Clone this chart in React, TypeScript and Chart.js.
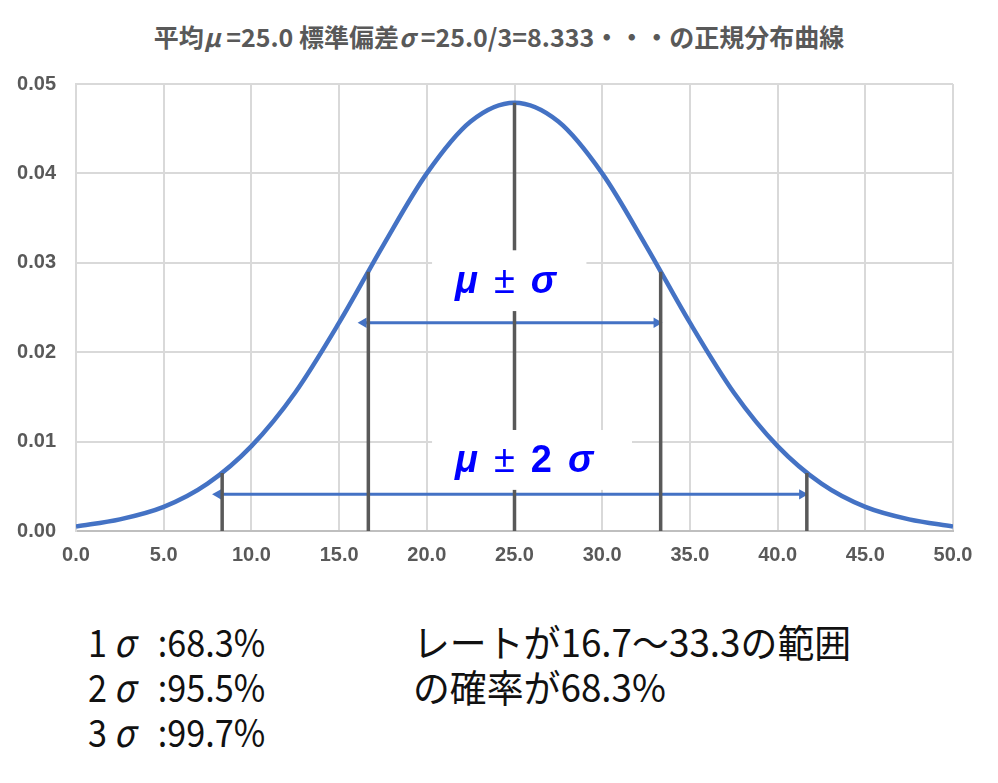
import React, { useEffect, useRef } from "react";
import { Chart, registerables } from "chart.js";

Chart.register(...registerables);

// x positions of the curve samples and the read-off density values
const curveX = [0, 2.5, 5, 7.5, 10, 12.5, 15, 17.5, 20, 22.5, 25, 27.5, 30, 32.5, 35, 37.5, 40, 42.5, 45, 47.5, 50];
const curveY = [
  0.0005, 0.0013, 0.0027, 0.0053, 0.0095, 0.0155, 0.0233, 0.0319, 0.04, 0.0458, 0.0479,
  0.0458, 0.04, 0.0319, 0.0233, 0.0155, 0.0095, 0.0053, 0.0027, 0.0013, 0.0005,
];

// μ-2σ, μ-σ, μ, μ+σ, μ+2σ and the curve height at each
const sigmaX = [8.333, 16.667, 25, 33.333, 41.667];
const sigmaY = [0.0065, 0.029, 0.0479, 0.029, 0.0065];

// double arrows: μ±σ and μ±2σ
const arrowFrom = [16.4, 8.1];
const arrowTo = [33.1, 41.4];
const arrowY = [0.0233, 0.0041];

const notesLeft = [
  ["1", ":68.3%"],
  ["2", ":95.5%"],
  ["3", ":99.7%"],
];
const notesRight = ["レートが16.7～33.3の範囲", "の確率が68.3%"];

const GRAY = "#595959";
const BLUE = "#4472C4";

// label boxes in data coords (left, right, top, bottom)
const labelBoxes = [
  { x0: 20.3, x1: 29.1, y0: 0.0314, y1: 0.0246, parts: ["μ", "±", "σ"] },
  { x0: 20.3, x1: 31.7, y0: 0.0113, y1: 0.0046, parts: ["μ", "±", "2", "σ"] },
];

const labelPlugin = {
  id: "sigmaLabels",
  afterDatasetsDraw(chart: any) {
    const { ctx, scales } = chart;
    const xs = scales.x;
    const ys = scales.y;
    ctx.save();
    labelBoxes.forEach((b) => {
      const l = xs.getPixelForValue(b.x0);
      const r = xs.getPixelForValue(b.x1);
      const t = ys.getPixelForValue(b.y0);
      const bt = ys.getPixelForValue(b.y1);
      ctx.fillStyle = "#ffffff";
      ctx.fillRect(l, t, r - l, bt - t);
      let x = l + 23;
      const y = (t + bt) / 2 + 2;
      ctx.fillStyle = "#0000FF";
      ctx.textBaseline = "middle";
      ctx.textAlign = "left";
      b.parts.forEach((p) => {
        if (p === "±") ctx.font = "38px 'Liberation Sans'";
        else if (p === "2") ctx.font = "bold 38px 'Liberation Sans'";
        else ctx.font = "italic bold 38px 'Liberation Sans'";
        ctx.fillText(p, x, y);
        x += ctx.measureText(p).width + 16;
      });
    });
    ctx.restore();
  },
};

const NormalChart: React.FC = () => {
  const canvasRef = useRef<HTMLCanvasElement>(null);

  useEffect(() => {
    let chart: Chart | null = null;
    const ctx = canvasRef.current?.getContext("2d");
    if (!ctx) return;

    const curve = curveX.map((x, i) => ({ x, y: curveY[i] }));
    const sigmaLines: { x: number; y: number | null }[] = [];
    sigmaX.forEach((x, i) => {
      sigmaLines.push({ x, y: 0 }, { x, y: sigmaY[i] }, { x, y: null });
    });
    const arrows = arrowFrom.map((x0, i) => ({
      type: "line" as const,
      data: [
        { x: x0, y: arrowY[i] },
        { x: arrowTo[i], y: arrowY[i] },
      ],
      borderColor: BLUE,
      backgroundColor: BLUE,
      borderWidth: 3,
      pointStyle: "triangle",
      pointRadius: 6,
      pointRotation: [-90, 90],
      pointBorderWidth: 0,
      tension: 0,
    }));

    chart = new Chart(ctx, {
      type: "scatter",
      data: {
        datasets: [
          {
            type: "line",
            data: sigmaLines,
            borderColor: GRAY,
            borderWidth: 3.5,
            pointRadius: 0,
            spanGaps: false,
            tension: 0,
          },
          {
            type: "line",
            data: curve,
            borderColor: BLUE,
            borderWidth: 4.5,
            pointRadius: 0,
            cubicInterpolationMode: "monotone",
          },
          ...arrows,
        ] as any,
      },
      options: {
        animation: false,
        responsive: true,
        maintainAspectRatio: false,
        layout: { padding: { left: 10, right: 45, top: 84, bottom: 9 } },
        plugins: {
          legend: { display: false },
          tooltip: { enabled: false },
        },
        scales: {
          x: {
            type: "linear",
            min: 0,
            max: 50,
            ticks: {
              stepSize: 5,
              color: GRAY,
              padding: 12,
              font: { family: "'Liberation Sans'", size: 20, weight: "bold" },
              callback: (v: any) => Number(v).toFixed(1),
            },
            grid: { color: "#D9D9D9", lineWidth: 2, drawTicks: false },
            border: { color: "#BFBFBF", width: 2 },
            afterFit: (s: any) => {
              s.height = 60;
            },
          },
          y: {
            min: 0,
            max: 0.05,
            ticks: {
              stepSize: 0.01,
              color: GRAY,
              padding: 20,
              font: { family: "'Liberation Sans'", size: 20, weight: "bold" },
              callback: (v: any) => Number(v).toFixed(2),
            },
            grid: { color: "#D9D9D9", lineWidth: 2, drawTicks: false },
            border: { color: "#D9D9D9", width: 2 },
            afterFit: (s: any) => {
              s.width = 66;
            },
          },
        },
      },
      plugins: [labelPlugin],
    });

    return () => {
      if (chart) chart.destroy();
    };
  }, []);

  return <canvas ref={canvasRef} />;
};

const noteStyle: React.CSSProperties = {
  position: "absolute",
  fontFamily: "'Noto Sans CJK JP'",
  fontSize: 38,
  lineHeight: "45px",
  color: "#111",
  whiteSpace: "nowrap",
  transformOrigin: "left top",
};

const sigmaBox: React.CSSProperties = {
  display: "inline-block",
  width: "1em",
  marginRight: 10,
  textAlign: "center",
  fontStyle: "italic",
};

export default function App() {
  return (
    <div style={{ position: "fixed", left: 0, top: 0, width: 998, height: 783, background: "#fff" }}>
      <div
        style={{
          position: "absolute",
          left: 0,
          top: 19,
          width: 998,
          textAlign: "center",
          fontFamily: "'Noto Sans CJK JP'",
          fontWeight: "bold",
          fontSize: 25,
          lineHeight: "34px",
          color: GRAY,
          whiteSpace: "nowrap",
        }}
      >
        平均<i>μ</i> =25.0 標準偏差<i>σ</i> =25.0/3=8.333・・・の正規分布曲線
      </div>
      <div style={{ position: "absolute", left: 0, top: 0, width: 998, height: 600 }}>
        <NormalChart />
      </div>
      <div style={{ ...noteStyle, left: 88, top: 618, transform: "scaleX(0.9)" }}>
        {notesLeft.map(([n, p]) => (
          <div key={n}>
            {n}
            <span style={sigmaBox}>σ</span> {p}
          </div>
        ))}
      </div>
      <div style={{ ...noteStyle, left: 413, top: 618, transform: "scaleX(0.97)" }}>
        {notesRight.map((t) => (
          <div key={t}>{t}</div>
        ))}
      </div>
    </div>
  );
}
